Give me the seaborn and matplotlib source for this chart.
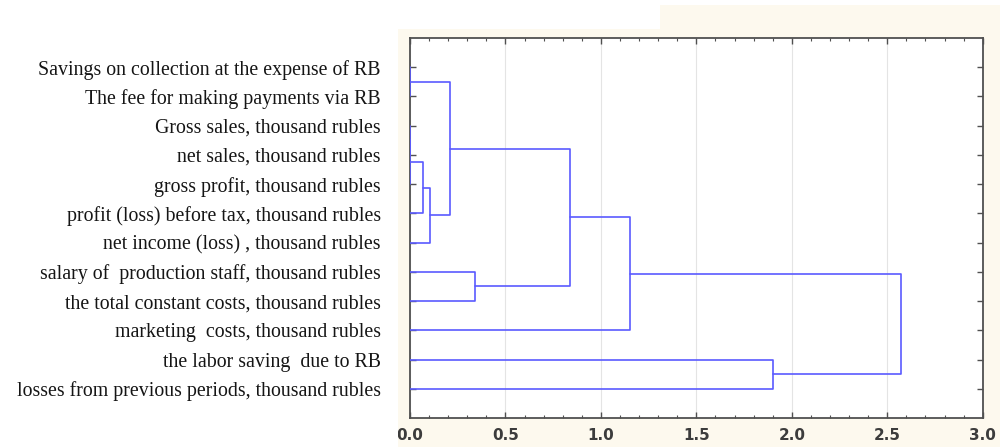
import numpy as np
import pandas as pd
import matplotlib.pyplot as plt
import seaborn as sns
from matplotlib.patches import Rectangle

# leaves, top to bottom
labels = [
    'Savings on collection at the expense of RB',
    'The fee for making payments via RB',
    'Gross sales, thousand rubles',
    'net sales, thousand rubles',
    'gross profit, thousand rubles',
    'profit (loss) before tax, thousand rubles',
    'net income (loss) , thousand rubles',
    'salary of  production staff, thousand rubles',
    'the total constant costs, thousand rubles',
    'marketing  costs, thousand rubles',
    'the labor saving  due to RB',
    'losses from previous periods, thousand rubles',
]

# linkage steps (node ids 12.. are created in this order)
merge_left = [0, 2, 13, 14, 15, 12, 7, 17, 19, 10, 20]
merge_right = [1, 3, 4, 5, 6, 16, 8, 18, 9, 11, 21]
merge_dist = [0.0, 0.0, 0.0, 0.067, 0.107, 0.21, 0.34, 0.84, 1.15, 1.90, 2.57]

x_ticks = [0.0, 0.5, 1.0, 1.5, 2.0, 2.5, 3.0]

# build dendrogram segments
n = len(labels)
pos = {i: i + 1 for i in range(n)}
height = {i: 0.0 for i in range(n)}
rows = []
for k, (a, b, d) in enumerate(zip(merge_left, merge_right, merge_dist)):
    node = n + k
    xs = [height[a], d, d, height[b]]
    ys = [pos[a], pos[a], pos[b], pos[b]]
    for j, (xx, yy) in enumerate(zip(xs, ys)):
        rows.append({'seg': k, 'order': j, 'dist': xx, 'leaf': yy})
    pos[node] = (pos[a] + pos[b]) / 2
    height[node] = d
df = pd.DataFrame(rows)

sns.set_style('ticks')
plt.rcParams['font.family'] = ['DejaVu Sans']

fig = plt.figure(figsize=(10, 4.47), dpi=100)
fig.patch.set_facecolor('white')
cream = '#fdf9ee'
fig.add_artist(Rectangle((0.398, 0), 0.602, 1 - 29 / 447, transform=fig.transFigure,
                         facecolor=cream, edgecolor='none', zorder=-5))
fig.add_artist(Rectangle((0.66, 0), 0.34, 1 - 5 / 447, transform=fig.transFigure,
                         facecolor=cream, edgecolor='none', zorder=-5))

ax = fig.add_axes([0.41, 29 / 447, 0.5727, 380 / 447])
ax.set_facecolor('white')

sns.lineplot(data=df, x='dist', y='leaf', units='seg', estimator=None, sort=False,
             color='#5a5aff', linewidth=1.2, ax=ax, zorder=3)

ax.set_xlim(0, 3.0)
ax.set_ylim(n + 1, 0)
ax.set_xticks(x_ticks)
ax.set_xticks(np.arange(0, 3.01, 0.1), minor=True)
ax.set_xticklabels([f'{t:.1f}' for t in x_ticks], fontweight='bold', fontsize=11,
                   color='#3c3c3c')
ax.set_yticks(range(1, n + 1))
ax.set_yticklabels(labels, family='Liberation Serif', fontsize=14.3, color='#151515')
ax.set_xlabel('')
ax.set_ylabel('')

ax.grid(axis='x', color='#e4e4e4', linewidth=0.8, zorder=0)
ax.tick_params(axis='x', which='major', direction='in', top=True, bottom=True,
               length=4, width=1, color='#505050', pad=7)
ax.tick_params(axis='x', which='minor', direction='in', top=True, bottom=True,
               length=2.5, width=0.8, color='#505050')
ax.tick_params(axis='y', direction='in', left=True, right=True, length=4, width=1,
               color='#505050', pad=21)
for s in ax.spines.values():
    s.set_visible(True)
    s.set_color('#505050')
    s.set_linewidth(1.3)

# the first tick label is cut at the panel edge
fig.add_artist(Rectangle((0.37, 0), 0.028, 0.07, transform=fig.transFigure,
                         facecolor='white', edgecolor='none', zorder=10))

fig.savefig('out.png', dpi=100, facecolor=fig.get_facecolor())
